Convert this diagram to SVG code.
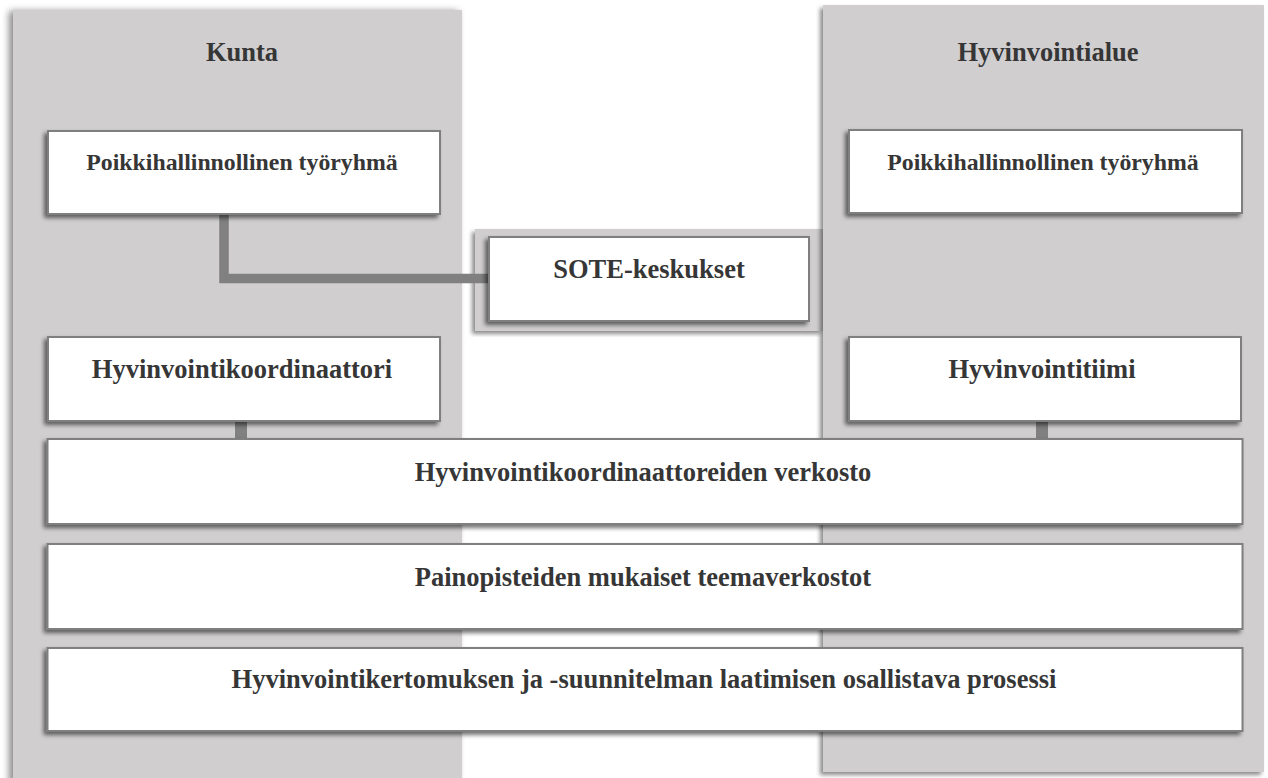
<svg xmlns="http://www.w3.org/2000/svg" width="1268" height="778" viewBox="0 0 1268 778">
<defs>
<style>
.panel{fill:#d0cecf;}
.box{fill:#ffffff;stroke:#7f7f7f;stroke-width:2;}
.t{font-family:"Liberation Serif","Times New Roman",serif;font-weight:bold;font-size:26.5px;fill:#363636;text-anchor:middle;}
.ts{font-size:23.8px;}
.conn{fill:none;stroke:#808080;stroke-linejoin:miter;stroke-linecap:butt;}
</style>
<filter id="psh" x="-10%" y="-5%" width="120%" height="110%">
<feDropShadow dx="-4" dy="1" stdDeviation="3.5" flood-color="#000" flood-opacity="0.45"/>
</filter>
<filter id="psh2" x="-10%" y="-5%" width="120%" height="110%">
<feDropShadow dx="-3" dy="3" stdDeviation="2" flood-color="#000" flood-opacity="0.45"/>
</filter>
<filter id="bsh" x="-10%" y="-20%" width="120%" height="150%">
<feDropShadow dx="-3" dy="3" stdDeviation="2" flood-color="#000" flood-opacity="0.55"/>
</filter>
</defs>

<g id="panel-kunta">
<rect class="panel" x="13" y="10" width="449" height="790" filter="url(#psh)"/>
<text class="t" x="242" y="61">Kunta</text>
</g>

<g id="panel-sote-tab">
<rect class="panel" x="475" y="229" width="348" height="102" filter="url(#psh2)"/>
</g>

<g id="panel-hyvinvointialue">
<rect class="panel" x="823" y="5" width="441" height="767" filter="url(#psh2)"/>
<text class="t" x="1048" y="61">Hyvinvointialue</text>
</g>

<g id="connectors">
<path class="conn" stroke-width="9.5" d="M224,214 V278.5 H490"/>
<path class="conn" stroke-width="12" d="M241,420 V440"/>
<path class="conn" stroke-width="12" d="M1042,420 V440"/>
</g>

<g id="kunta-tyoryhma">
<rect class="box" x="48" y="131" width="392" height="83" filter="url(#bsh)"/>
<text class="t ts" x="242" y="170">Poikkihallinnollinen työryhmä</text>
</g>

<g id="alue-tyoryhma">
<rect class="box" x="849" y="130" width="393" height="83" filter="url(#bsh)"/>
<text class="t ts" x="1043" y="170">Poikkihallinnollinen työryhmä</text>
</g>

<g id="sote-keskukset">
<rect class="box" x="489" y="237" width="320" height="84" filter="url(#bsh)"/>
<text class="t" x="649" y="278">SOTE-keskukset</text>
</g>

<g id="hyvinvointikoordinaattori">
<rect class="box" x="48" y="337" width="392" height="84" filter="url(#bsh)"/>
<text class="t" x="242" y="378">Hyvinvointikoordinaattori</text>
</g>

<g id="hyvinvointitiimi">
<rect class="box" x="849" y="337" width="392" height="84" filter="url(#bsh)"/>
<text class="t" x="1042" y="378">Hyvinvointitiimi</text>
</g>

<g id="verkosto">
<rect class="box" x="47.5" y="439" width="1195" height="85" filter="url(#bsh)"/>
<text class="t" x="643" y="481">Hyvinvointikoordinaattoreiden verkosto</text>
</g>

<g id="teemaverkostot">
<rect class="box" x="47.5" y="544" width="1195" height="85" filter="url(#bsh)"/>
<text class="t" x="643" y="586">Painopisteiden mukaiset teemaverkostot</text>
</g>

<g id="prosessi">
<rect class="box" x="47.5" y="648" width="1195" height="83" filter="url(#bsh)"/>
<text class="t" x="644" y="688">Hyvinvointikertomuksen ja -suunnitelman laatimisen osallistava prosessi</text>
</g>
</svg>
